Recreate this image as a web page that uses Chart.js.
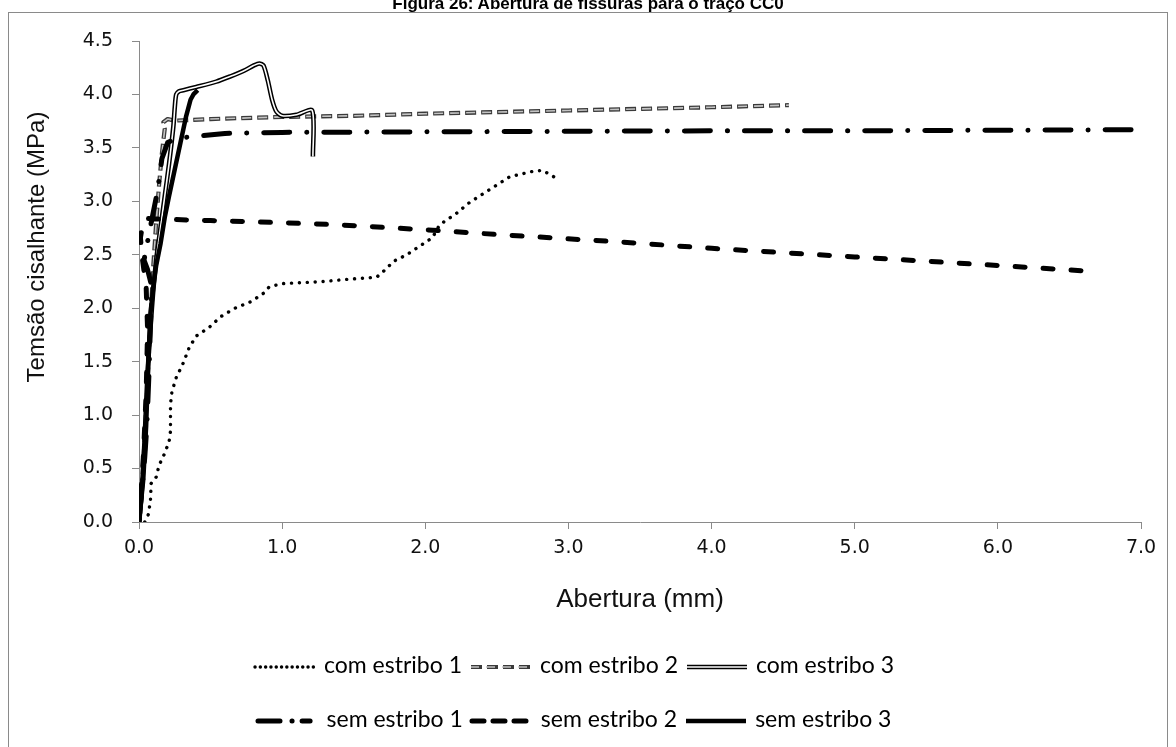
<!DOCTYPE html>
<html>
<head>
<meta charset="utf-8">
<script src="https://cdn.jsdelivr.net/npm/chart.js@4.4.1/dist/chart.umd.min.js"></script>
<style>
  body { margin: 0; background: #fff; width: 1176px; height: 747px; overflow: hidden; position: relative; }
  #wrap { position: absolute; left: 0; top: 0; width: 1176px; height: 747px; }
  #frame { position: absolute; left: 8px; top: 12px; width: 1158px; height: 760px; border: 1px solid #8a8a8a; pointer-events: none; }
  #title { position: absolute; left: 0; width: 1176px; top: -6px; text-align: center;
           font: bold 17px "Liberation Sans", Arial, sans-serif; color: #000; }
  .legendRow { position: absolute; left: 0; width: 1146px; text-align: center;
               font: 23px Lato, "Open Sans", sans-serif; color: #000; white-space: nowrap; }
  .legendRow span { display: inline-block; vertical-align: middle; margin: 0 3px; }
  .legendRow svg { vertical-align: middle; margin-right: 6px; }
</style>
</head>
<body>
<div id="wrap"><canvas id="myChart"></canvas></div>
<div id="frame"></div>
<div id="title">Figura 26: Abertura de fissuras para o traço CC0</div>
<div class="legendRow" id="row1" style="top:647px"></div>
<div class="legendRow" id="row2" style="top:701px"></div>
<script>
// Valori (Abertura in mm, tensão in MPa)
const com1X = [0.04, 0.065, 0.08, 0.085, 0.12, 0.14, 0.175, 0.21, 0.22, 0.22, 0.23, 0.26, 0.31, 0.35, 0.40, 0.49, 0.57, 0.67, 0.78, 0.87, 0.91, 1.0, 1.29, 1.45, 1.66, 1.72, 1.78, 1.87, 1.96, 2.05, 2.1, 2.22, 2.31, 2.45, 2.59, 2.75, 2.82, 2.91];
const com1Y = [0, 0.07, 0.2, 0.36, 0.42, 0.53, 0.63, 0.75, 0.85, 1.1, 1.22, 1.35, 1.49, 1.63, 1.74, 1.82, 1.92, 2.0, 2.06, 2.14, 2.2, 2.23, 2.25, 2.27, 2.29, 2.36, 2.44, 2.5, 2.58, 2.66, 2.78, 2.89, 2.99, 3.11, 3.23, 3.28, 3.29, 3.22];

const com2X = [0, 0.02, 0.04, 0.06, 0.08, 0.1, 0.12, 0.14, 0.16, 0.18, 0.17, 0.2, 0.25, 0.5, 1.0, 1.5, 2.0, 2.5, 3.0, 3.5, 4.0, 4.54];
const com2Y = [0, 0.3, 0.8, 1.3, 1.9, 2.4, 2.8, 3.15, 3.45, 3.68, 3.74, 3.77, 3.755, 3.77, 3.79, 3.80, 3.82, 3.835, 3.85, 3.865, 3.88, 3.90];

const com3X = [0, 0.02, 0.04, 0.06, 0.09, 0.12, 0.15, 0.18, 0.21, 0.24, 0.25, 0.26, 0.28, 0.31, 0.40, 0.54, 0.64, 0.73, 0.80, 0.84, 0.87, 0.90, 0.93, 0.96, 1.0, 1.1, 1.21, 1.215];
const com3Y = [0, 0.3, 0.8, 1.4, 2.0, 2.45, 2.75, 3.05, 3.35, 3.7, 3.88, 4.0, 4.03, 4.04, 4.07, 4.12, 4.17, 4.22, 4.27, 4.29, 4.27, 4.13, 3.95, 3.84, 3.8, 3.81, 3.85, 3.42];

const sem1X = [0, 0.02, 0.04, 0.055, 0.07, 0.08, 0.09, 0.06, 0.035, 0.1, 0.13, 0.16, 0.2, 0.25, 0.33, 0.6, 1.0, 2.0, 3.0, 4.0, 5.0, 6.0, 7.0];
const sem1Y = [0, 0.3, 0.6, 0.9, 1.4, 1.85, 2.2, 2.36, 2.45, 2.9, 3.1, 3.4, 3.55, 3.58, 3.6, 3.635, 3.645, 3.65, 3.655, 3.66, 3.66, 3.665, 3.67];

const sem2X = [0, 0.03, 0.05, 0.06, 0.05, 0.02, 0.01, 0.03, 0.06, 0.1, 0.5, 1.0, 1.4, 2.05, 2.5, 3.36, 4.0, 5.0, 6.0, 6.6];
const sem2Y = [0, 0.6, 1.2, 1.8, 2.2, 2.5, 2.66, 2.82, 2.84, 2.835, 2.82, 2.80, 2.78, 2.73, 2.69, 2.62, 2.56, 2.48, 2.40, 2.35];

const sem3X = [0, 0.03, 0.05, 0.065, 0.08, 0.1, 0.12, 0.15, 0.18, 0.21, 0.25, 0.29, 0.33, 0.36, 0.38, 0.41];
const sem3Y = [0, 0.4, 0.9, 1.5, 1.95, 2.2, 2.4, 2.6, 2.85, 3.05, 3.3, 3.55, 3.8, 3.95, 4.0, 4.04];

const xTicks = [0, 1, 2, 3, 4, 5, 6, 7];
const yTicks = [0, 0.5, 1, 1.5, 2, 2.5, 3, 3.5, 4, 4.5];

const labels = ["com estribo 1", "com estribo 2", "com estribo 3", "sem estribo 1", "sem estribo 2", "sem estribo 3"];

const pts = (xs, ys) => xs.map((x, i) => ({ x, y: ys[i] }));

const AXIS = '#8a8a8a';

// Stili delle linee (anche usati per la legenda)
const styles = [
    [{ color: '#000', width: 3.4, dash: [0.1, 7.8], cap: 'round' }],
    [{ color: '#3a3a3a', width: 4.2, dash: [11, 5], cap: 'butt' },
     { color: '#c4c4c4', width: 1.6, dash: [9, 7], cap: 'butt', offset: -1 }],
    [{ color: '#000', width: 4.6, dash: [], cap: 'butt' },
     { color: '#fff', width: 1.6, dash: [], cap: 'butt' }],
    [{ color: '#000', width: 5, dash: [26, 17, 0.1, 17], cap: 'round' }],
    [{ color: '#000', width: 5, dash: [10, 18], cap: 'round' }],
    [{ color: '#000', width: 4.5, dash: [], cap: 'butt' }],
];
// campioni della legenda (tratteggi un po' più fitti)
const legendDash = [[0.1, 5.2], null, null, [22, 12, 0.1, 10, 8, 100], [12, 9], null];

const series = [pts(com1X, com1Y), pts(com2X, com2Y), pts(com3X, com3Y),
                pts(sem1X, sem1Y), pts(sem2X, sem2Y), pts(sem3X, sem3Y)];

const datasets = [];
series.forEach((data, i) => {
    styles[i].forEach((s, k) => {
        datasets.push({
            label: labels[i],
            data,
            showLine: true,
            borderColor: s.color,
            backgroundColor: s.color,
            borderWidth: s.width,
            borderDash: s.dash,
            borderDashOffset: s.offset || 0,
            borderCapStyle: s.cap,
            borderJoinStyle: 'round',
            pointRadius: 0,
            pointHoverRadius: 0,
            tension: i === 2 ? 0.25 : 0,
            fill: false,
            order: 20 - i * 2 - k,
        });
    });
});

// Titolo asse y disegnato a mano (non centrato sull'area del grafico)
const yTitle = {
    id: 'yTitle',
    afterDraw(chart) {
        const ctx = chart.ctx;
        ctx.save();
        ctx.translate(37, 247);
        ctx.rotate(-Math.PI / 2);
        ctx.font = '24px "Liberation Sans"';
        ctx.fillStyle = '#111';
        ctx.textAlign = 'center';
        ctx.textBaseline = 'middle';
        ctx.fillText('Temsão cisalhante (MPa)', 0, 0);
        ctx.restore();
    },
};

new Chart("myChart", {
    type: "scatter",
    data: { datasets },
    plugins: [yTitle],
    options: {
        responsive: true,
        maintainAspectRatio: false,
        animation: false,
        layout: { padding: { left: 0, top: 41, right: 35, bottom: 130 } },
        plugins: {
            legend: { display: false },
            tooltip: { enabled: false },
        },
        scales: {
            x: {
                type: 'linear',
                min: 0, max: 7,
                afterFit: (scale) => { scale.height = 95; },
                afterBuildTicks: (scale) => { scale.ticks = xTicks.map(v => ({ value: v })); },
                ticks: {
                    autoSkip: false,
                    padding: 8,
                    color: '#111',
                    font: { family: 'DejaVu Sans', size: 19 },
                    callback: (v) => Number(v).toFixed(1),
                },
                grid: { drawOnChartArea: false, drawTicks: true, tickLength: 7, color: AXIS },
                border: { display: true, color: AXIS, width: 1 },
                title: {
                    display: true, text: 'Abertura (mm)', color: '#111',
                    font: { family: 'Liberation Sans', size: 26 },
                    padding: { top: 4, bottom: 2 },
                },
            },
            y: {
                type: 'linear',
                min: 0, max: 4.5,
                afterFit: (scale) => { scale.width = 139; },
                afterBuildTicks: (scale) => { scale.ticks = yTicks.map(v => ({ value: v })); },
                ticks: {
                    autoSkip: false,
                    padding: 19,
                    color: '#111',
                    font: { family: 'DejaVu Sans', size: 19 },
                    callback: (v) => Number(v).toFixed(1),
                },
                grid: { drawOnChartArea: false, drawTicks: true, tickLength: 7, color: AXIS },
                border: { display: true, color: AXIS, width: 1 },
                title: { display: false },
            },
        },
    },
});

// Legenda HTML con campioni disegnati in SVG
const sample = (i) => {
    const lines = styles[i].map(s => {
        const d = legendDash[i] || s.dash;
        const dash = d.length ? `stroke-dasharray="${d.join(' ')}"` : '';
        return `<line x1="3" y1="8" x2="63" y2="8" stroke="${s.color}" stroke-width="${s.width}" ${dash} stroke-dashoffset="${-(s.offset || 0)}" stroke-linecap="${s.cap}"/>`;
    }).join('');
    return `<svg width="66" height="16">${lines}</svg>`;
};

const fillRow = (id, from) => {
    const row = document.getElementById(id);
    row.innerHTML = [0, 1, 2].map(k => `<span>${sample(from + k)}${labels[from + k]}</span>`).join('');
};
fillRow('row1', 0);
fillRow('row2', 3);
</script>
</body>
</html>
